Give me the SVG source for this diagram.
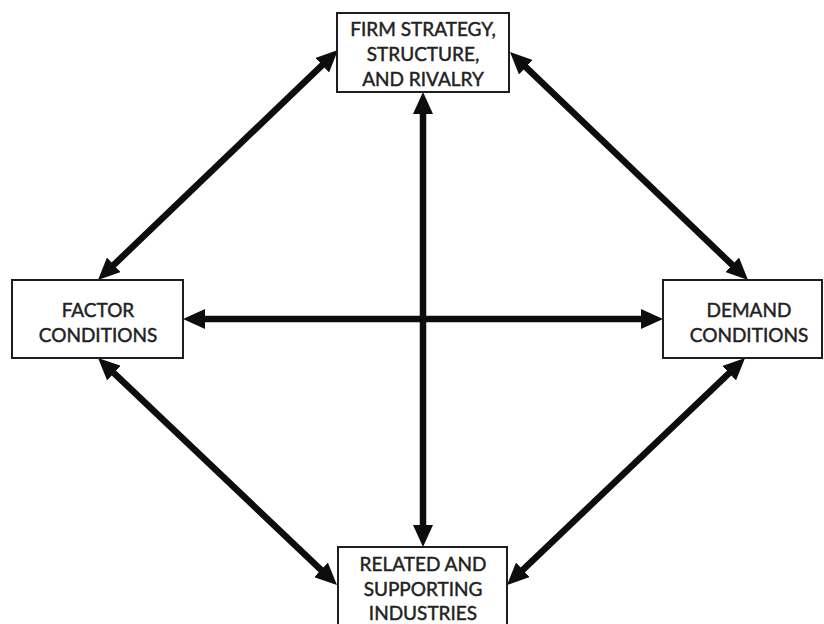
<svg xmlns="http://www.w3.org/2000/svg" width="824" height="624" viewBox="0 0 824 624">
  <style>
    .box { fill: #ffffff; stroke: #1e1e1e; stroke-width: 2; }
    .label { font-family: Lato, "Open Sans", "Liberation Sans", sans-serif; font-size: 19px; fill: #222222; stroke: #222222; stroke-width: 0.45; text-anchor: middle; }
    .link { stroke: #0d0d0d; stroke-width: 6.5; fill: none; marker-start: url(#head); marker-end: url(#head); }
  </style>
  <defs>
    <marker id="head" viewBox="0 0 22 20" markerUnits="userSpaceOnUse" markerWidth="22" markerHeight="20" refX="12" refY="10" orient="auto-start-reverse">
      <path d="M0,0 L22,10 L0,20 Z" fill="#0d0d0d"/>
    </marker>
  </defs>
  <rect width="824" height="624" fill="#ffffff"/>

  <!-- two-headed connectors between the four determinants -->
  <g id="connectors">
    <line class="link" x1="105.2" y1="273.1" x2="330.8" y2="56.9"/>
    <line class="link" x1="517.2" y1="58.9" x2="740.8" y2="273.1"/>
    <line class="link" x1="105.3" y1="364.9" x2="329.7" y2="578.1"/>
    <line class="link" x1="737.8" y1="364.9" x2="514.2" y2="578.1"/>
    <line class="link" x1="193" y1="319" x2="653" y2="319"/>
    <line class="link" x1="423" y1="102" x2="423" y2="537"/>
  </g>

  <g id="firm-strategy">
    <rect class="box" x="337" y="13" width="172" height="79"/>
    <text class="label" x="423" y="36">FIRM STRATEGY,</text>
    <text class="label" x="423" y="61">STRUCTURE,</text>
    <text class="label" x="423" y="86">AND RIVALRY</text>
  </g>

  <g id="factor-conditions">
    <rect class="box" x="12" y="280" width="171" height="78"/>
    <text class="label" x="98" y="317">FACTOR</text>
    <text class="label" x="98" y="342">CONDITIONS</text>
  </g>

  <g id="demand-conditions">
    <rect class="box" x="663" y="280" width="159" height="78"/>
    <text class="label" x="749" y="317">DEMAND</text>
    <text class="label" x="749" y="342">CONDITIONS</text>
  </g>

  <g id="related-industries">
    <rect class="box" x="338" y="547" width="169" height="82"/>
    <text class="label" x="423" y="571">RELATED AND</text>
    <text class="label" x="423" y="596">SUPPORTING</text>
    <text class="label" x="423" y="620">INDUSTRIES</text>
  </g>
</svg>
